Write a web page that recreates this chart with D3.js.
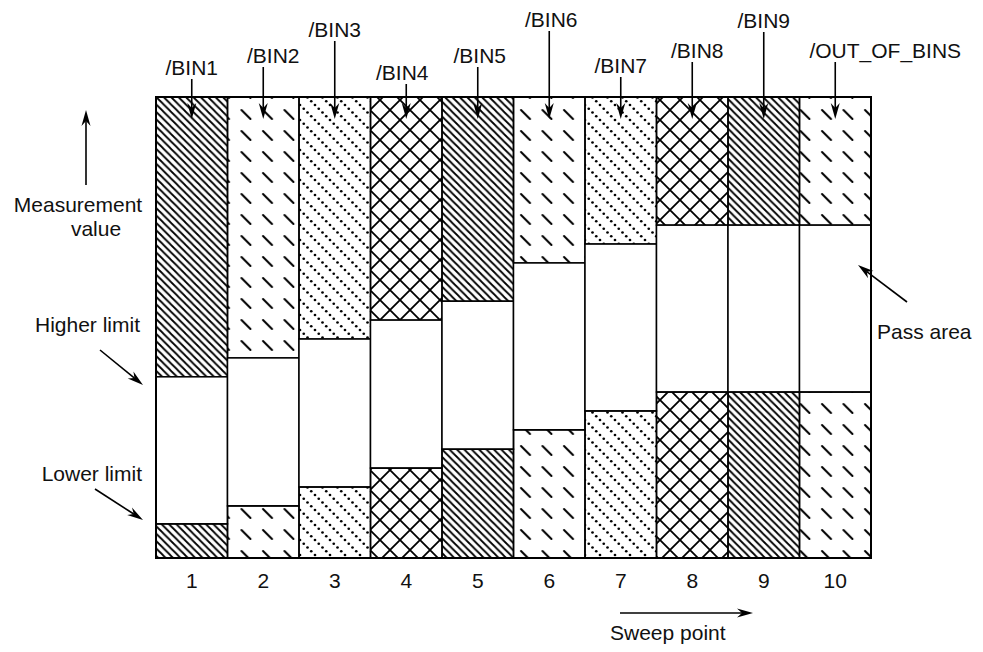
<!DOCTYPE html>
<html>
<head>
<meta charset="utf-8">
<script src="https://cdn.jsdelivr.net/npm/d3@7"></script>
<style>
body{margin:0;background:#fff;}
text{font-family:"Liberation Sans",Arial,sans-serif;fill:#111;font-size:21px;}
</style>
</head>
<body>
<div id="chart"></div>
<script>
// Data (measurement value on a 0-100 scale)
var sweepPoints=[1,2,3,4,5,6,7,8,9,10];
var higherLimit=[39.3,43.4,47.5,51.6,55.7,64.0,68.1,72.2,72.2,72.2];
var lowerLimit=[7.4,11.3,15.4,19.5,23.6,27.8,31.9,36.0,36.0,36.0];
var binLabels=["/BIN1","/BIN2","/BIN3","/BIN4","/BIN5","/BIN6","/BIN7","/BIN8","/BIN9","/OUT_OF_BINS"];
var binHatch=["diag","dash","dot","cross","diag","dash","dot","cross","diag","dash"];

// Layout
var W=983,H=652;
var plot={left:156,right:871,top:97,bottom:558};
// baselines of the bin labels and their shift from the arrow
var labelY=[75,63,37,80,63,27,73,58,28,58];
var labelDx=[0,10,0,-4,2,2,0,5,0,50];

var svg=d3.select("#chart").append("svg")
    .attr("width",W)
    .attr("height",H);

var x=d3.scaleBand().domain(sweepPoints).range([plot.left,plot.right]).padding(0);
var y=d3.scaleLinear().domain([0,100]).range([plot.bottom,plot.top]);

// hatch patterns
var defs=svg.append("defs");
var p;
p=defs.append("pattern").attr("id","diag").attr("patternUnits","userSpaceOnUse")
    .attr("width",7.4).attr("height",7.4);
p.append("path").attr("d","M0,0L7.4,7.4M-1,6.4L1,8.4M6.4,-1L8.4,1")
    .attr("stroke","#000").attr("stroke-width",1.8);

p=defs.append("pattern").attr("id","dash").attr("patternUnits","userSpaceOnUse")
    .attr("width",21.5).attr("height",21);
p.append("path").attr("d","M5,5L14,14")
    .attr("stroke","#000").attr("stroke-width",2).attr("stroke-linecap","round");

// dotted diagonal lines
p=defs.append("pattern").attr("id","dot").attr("patternUnits","userSpaceOnUse")
    .attr("width",15).attr("height",15);
[[0,0],[15,0],[0,15],[15,15],[3.75,3.75],[7.5,7.5],[11.25,11.25]].forEach(function(c){
    p.append("circle").attr("cx",c[0]).attr("cy",c[1]).attr("r",1.35).attr("fill","#000");
});

p=defs.append("pattern").attr("id","cross").attr("patternUnits","userSpaceOnUse")
    .attr("width",20).attr("height",20);
p.append("path").attr("d","M0,0L20,20M20,0L0,20")
    .attr("stroke","#000").attr("stroke-width",1.8);

// columns
var cols=svg.append("g").selectAll("g")
    .data(sweepPoints)
  .enter().append("g");

cols.append("rect")
    .attr("x",function(d){return x(d);})
    .attr("y",y(100))
    .attr("width",x.bandwidth())
    .attr("height",function(d,i){return y(higherLimit[i])-y(100);})
    .attr("fill",function(d,i){return "url(#"+binHatch[i]+")";})
    .attr("stroke","#000").attr("stroke-width",1.5);

cols.append("rect")
    .attr("x",function(d){return x(d);})
    .attr("y",function(d,i){return y(higherLimit[i]);})
    .attr("width",x.bandwidth())
    .attr("height",function(d,i){return y(lowerLimit[i])-y(higherLimit[i]);})
    .attr("fill","#fff")
    .attr("stroke","#000").attr("stroke-width",1.5);

cols.append("rect")
    .attr("x",function(d){return x(d);})
    .attr("y",function(d,i){return y(lowerLimit[i]);})
    .attr("width",x.bandwidth())
    .attr("height",function(d,i){return y(0)-y(lowerLimit[i]);})
    .attr("fill",function(d,i){return "url(#"+binHatch[i]+")";})
    .attr("stroke","#000").attr("stroke-width",1.5);

// outer frame
svg.append("rect")
    .attr("x",plot.left).attr("y",plot.top)
    .attr("width",plot.right-plot.left).attr("height",plot.bottom-plot.top)
    .attr("fill","none").attr("stroke","#000").attr("stroke-width",2);

// x axis (sweep point numbers)
var ax=svg.append("g")
    .attr("transform","translate(0,"+plot.bottom+")")
    .call(d3.axisBottom(x).tickSize(0).tickPadding(15));
ax.select(".domain").remove();
ax.selectAll("text").style("font-size","21px").style("font-family","'Liberation Sans',Arial,sans-serif").attr("fill","#111");

// arrow helper: line with notched filled head
function arrow(x1,y1,x2,y2){
    var a=Math.atan2(y2-y1,x2-x1);
    var len=16,hw=4.5,notch=11;
    function pt(l,w){
        return [x2-l*Math.cos(a)-w*Math.sin(a), y2-l*Math.sin(a)+w*Math.cos(a)];
    }
    svg.append("line")
        .attr("x1",x1).attr("y1",y1).attr("x2",pt(notch,0)[0]).attr("y2",pt(notch,0)[1])
        .attr("stroke","#000").attr("stroke-width",1.6);
    svg.append("path")
        .attr("d","M"+[x2,y2]+"L"+pt(len,hw)+"L"+pt(notch,0)+"L"+pt(len,-hw)+"Z")
        .attr("fill","#000");
}

// bin labels with arrows
binLabels.forEach(function(lab,i){
    var cx=x(sweepPoints[i])+x.bandwidth()/2;
    svg.append("text")
        .attr("x",cx+labelDx[i]).attr("y",labelY[i])
        .attr("text-anchor","middle")
        .text(lab);
    arrow(cx,labelY[i]+4,cx,119);
});

// left annotations
arrow(86,185,86,110);
svg.append("text").attr("x",78).attr("y",212).attr("text-anchor","middle").text("Measurement");
svg.append("text").attr("x",96).attr("y",236).attr("text-anchor","middle").text("value");

svg.append("text").attr("x",140).attr("y",332).attr("text-anchor","end").text("Higher limit");
arrow(100,350,143,385);
svg.append("text").attr("x",142).attr("y",481).attr("text-anchor","end").text("Lower limit");
arrow(95,489,143,520);

// pass area
svg.append("text").attr("x",877).attr("y",339).text("Pass area");
arrow(907,302,858,265);

// sweep point
arrow(620,613,753,613);
svg.append("text").attr("x",610).attr("y",640).text("Sweep point");
</script>
</body>
</html>
